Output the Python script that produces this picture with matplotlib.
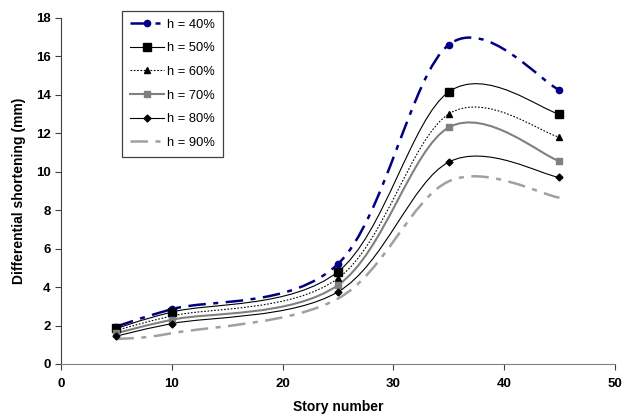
# differential shortening vs story number, smoothed lines like the spreadsheet chart
import numpy as np
import matplotlib.pyplot as plt
from matplotlib.path import Path
from matplotlib.patches import PathPatch
from matplotlib.lines import Line2D

plt.rcParams['font.family'] = ['Liberation Sans', 'DejaVu Sans']

stories = [5, 10, 25, 35, 45]
labels = ['h = 40%', 'h = 50%', 'h = 60%', 'h = 70%', 'h = 80%', 'h = 90%']
h40 = [1.95, 2.85, 5.2, 16.6, 14.25]
h50 = [1.85, 2.7, 4.8, 14.15, 13.0]
h60 = [1.75, 2.5, 4.45, 13.0, 11.8]
h70 = [1.6, 2.3, 4.1, 12.3, 10.55]
h80 = [1.45, 2.1, 3.75, 10.5, 9.7]
h90 = [1.3, 1.6, 3.4, 9.5, 8.65]

series = [h40, h50, h60, h70, h80, h90]
styles = [
    dict(color='#000080', ls=(0, (7, 3, 2, 3)), lw=1.8, marker='o', ms=4.5),
    dict(color='black', ls='-', lw=0.8, marker='s', ms=6),
    dict(color='black', ls=(0, (1.5, 1.5)), lw=0.8, marker='^', ms=4.5),
    dict(color='#808080', ls='-', lw=1.5, marker='s', ms=4),
    dict(color='black', ls='-', lw=0.8, marker='D', ms=3.5),
    dict(color='#a0a0a0', ls=(0, (7, 3, 2, 3)), lw=1.8, marker=None, ms=0),
]


def smooth_path(x, y):
    # cubic bezier through the points, tangents like Excel smoothing
    pts = np.column_stack([x, y]).astype(float)
    n = len(pts)
    verts = [pts[0]]
    codes = [Path.MOVETO]
    for i in range(n - 1):
        p_prev = pts[max(i - 1, 0)]
        p_next2 = pts[min(i + 2, n - 1)]
        c1 = pts[i] + (pts[i + 1] - p_prev) / 6
        c2 = pts[i + 1] - (p_next2 - pts[i]) / 6
        verts += [c1, c2, pts[i + 1]]
        codes += [Path.CURVE4] * 3
    return Path(verts, codes)


fig = plt.figure(figsize=(6.28, 4.16), dpi=100)
ax = fig.add_axes([0.0971, 0.125, 0.882, 0.832])

handles = []
for vals, st, lab in zip(series, styles, labels):
    patch = PathPatch(smooth_path(stories, vals), fill=False, edgecolor=st['color'],
                      linestyle=st['ls'], linewidth=st['lw'], capstyle='butt')
    ax.add_patch(patch)
    if st['marker']:
        ax.plot(stories, vals, ls='none', marker=st['marker'], ms=st['ms'],
                color=st['color'], zorder=3)
    handles.append(Line2D([], [], color=st['color'], ls=st['ls'], lw=st['lw'],
                          marker=st['marker'], ms=st['ms']))

ax.set_xlim(0, 50)
ax.set_ylim(0, 18)
ax.set_xticks(range(0, 51, 10))
ax.set_yticks(range(0, 19, 2))
for s in ['top', 'right']:
    ax.spines[s].set_visible(False)
ax.spines['left'].set_color('#404040')
ax.spines['bottom'].set_color('#808080')
ax.tick_params(direction='out', length=4, width=0.8, labelsize=9.5, colors='#404040',
               labelcolor='black')
ax.tick_params(axis='x', pad=6)
for t in ax.get_xticklabels() + ax.get_yticklabels():
    t.set_fontweight('bold')

ax.set_xlabel('Story number', fontsize=10, fontweight='bold', labelpad=7)
ax.set_ylabel('Differential shortening (mm)', fontsize=10, fontweight='bold', labelpad=7)

leg = ax.legend(handles, labels, loc='upper left', bbox_to_anchor=(0.194, 0.974),
                bbox_transform=fig.transFigure, fontsize=9.3, frameon=True, fancybox=False,
                edgecolor='#404040', framealpha=1, handlelength=2.7, labelspacing=0.9,
                borderpad=0.6, handletextpad=0.2, borderaxespad=0)
leg.get_frame().set_linewidth(0.9)

fig.savefig('out.png', dpi=100)
